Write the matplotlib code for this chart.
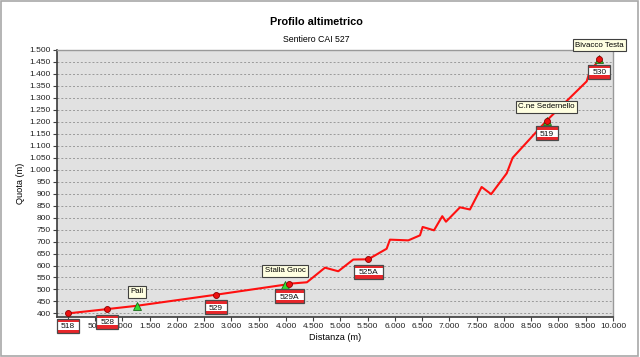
import matplotlib
matplotlib.use("Agg")
import matplotlib.pyplot as plt
from matplotlib import font_manager
from matplotlib.ticker import MultipleLocator, FuncFormatter
from matplotlib.offsetbox import DrawingArea, AnnotationBbox
from matplotlib.patches import Rectangle
from matplotlib.text import Text

# profile of the trail (distance m, altitude m)
dist = [0, 720, 1270, 2716, 3982, 4060, 4385, 4716, 4960, 5235, 5510, 5847, 5908,
        6245, 6459, 6508, 6716, 6868, 6936, 7193, 7376, 7590, 7765, 8050, 8159,
        8783, 9517, 9565, 9750]
elev = [400, 418, 432, 478, 520, 524, 530, 591, 576, 625, 626, 670, 708,
        705, 726, 761, 747, 806, 783, 843, 834, 928, 898, 985, 1050,
        1205, 1369, 1404, 1462]

# trail junctions (red dots + CAI sign)
junc_codes = ["518", "528", "529", "529A", "525A", "519", "530"]
junc_dist = [0, 720, 2716, 4060, 5510, 8783, 9750]
junc_elev = [400, 418, 478, 524, 626, 1205, 1462]

# named places (green triangles + yellow label)
place_names = ["Pali", "Stalla Gnoc", "C.ne Sedernello", "Bivacco Testa"]
place_dist = [1270, 3982, 8783, 9750]
place_elev = [432, 520, 1205, 1462]

font = "Liberation Sans"
try:
    font_manager.findfont("Liberation Sans Narrow", fallback_to_default=False)
    tick_font = "Liberation Sans Narrow"
except Exception:
    tick_font = font
plt.rcParams["font.family"] = font

fig = plt.figure(figsize=(6.4, 3.57), dpi=100)
ax = fig.add_axes([57 / 640, 1 - 317 / 357, 556 / 640, 267 / 357])
ax.set_facecolor("#e1e1e1")

ax.plot(dist, elev, color="#ff1010", lw=1.5, zorder=3)
ax.plot(place_dist, place_elev, "^", ms=5.5, color="#33dd33", mec="#1a6a1a", mew=0.6, zorder=4)
ax.plot(junc_dist, junc_elev, "o", ms=4.3, color="#ee1111", mec="#8a0000", mew=0.6, zorder=5)


def sign(x, y, code):
    w = 16 if len(code) == 3 else 21
    h = 10
    da = DrawingArea(w, h)
    da.add_artist(Rectangle((0, 0), w, h, fc="white", ec="none"))
    da.add_artist(Rectangle((0, 0), w, 2.4, fc="#e8262a", ec="none"))
    da.add_artist(Rectangle((0, h - 2.4), w, 2.4, fc="#e8262a", ec="none"))
    da.add_artist(Rectangle((0, 0), w, h, fc="none", ec="#4a4a4a", lw=0.9))
    da.add_artist(Text(w / 2, h / 2, code, ha="center", va="center_baseline",
                       fontsize=6, family=font, color="#111111"))
    ab = AnnotationBbox(da, (x, y), xybox=(0, -9), xycoords="data",
                        boxcoords="offset points", frameon=False, pad=0,
                        annotation_clip=False, zorder=6)
    ax.add_artist(ab)


for c, x, y in zip(junc_codes, junc_dist, junc_elev):
    sign(x, y, c)

for n, x, y in zip(place_names, place_dist, place_elev):
    ax.annotate(n, (x, y), xytext=(0, 10), textcoords="offset points",
                ha="center", va="center", fontsize=5.7, zorder=7,
                annotation_clip=False,
                bbox=dict(boxstyle="square,pad=0.3", fc="#ffffe1", ec="#404040", lw=0.8))

ax.set_xlim(-200, 10000)
ax.set_ylim(385, 1500)
ax.xaxis.set_major_locator(MultipleLocator(500))
ax.yaxis.set_major_locator(MultipleLocator(50))
# the 0 label sits under the first sign in the original, so leave it blank
xfmt = FuncFormatter(lambda v, p: "" if v == 0 else f"{v:,.0f}".replace(",", "."))
yfmt = FuncFormatter(lambda v, p: f"{v:,.0f}".replace(",", "."))
ax.xaxis.set_major_formatter(xfmt)
ax.yaxis.set_major_formatter(yfmt)
ax.tick_params(direction="out", length=3, width=0.8, color="#404040",
               labelsize=6, labelcolor="#222222", pad=1.5)
for lab in ax.get_xticklabels() + ax.get_yticklabels():
    lab.set_family(tick_font)

ax.grid(axis="y", color="#9a9a9a", ls=(0, (2, 2)), lw=0.7)
ax.set_axisbelow(True)
for s in ["left", "bottom"]:
    ax.spines[s].set_color("#3a3a3a")
    ax.spines[s].set_linewidth(1.2)
for s in ["top", "right"]:
    ax.spines[s].set_color("#999999")
    ax.spines[s].set_linewidth(1.0)

ax.set_xlabel("Distanza (m)", fontsize=6.6, labelpad=2)
ax.set_ylabel("Quota (m)", fontsize=6.6, labelpad=3)

fig.text(0.495, 1 - 22 / 357, "Profilo altimetrico", ha="center", va="center",
         fontsize=7.8, fontweight="bold")
fig.text(0.495, 1 - 40 / 357, "Sentiero CAI 527", ha="center", va="center", fontsize=6.3)

fig.patches.append(Rectangle((0.002, 0.004), 0.995, 0.992, transform=fig.transFigure,
                             fill=False, ec="#a8a8a8", lw=1.2))

fig.savefig("out.png", dpi=100)
